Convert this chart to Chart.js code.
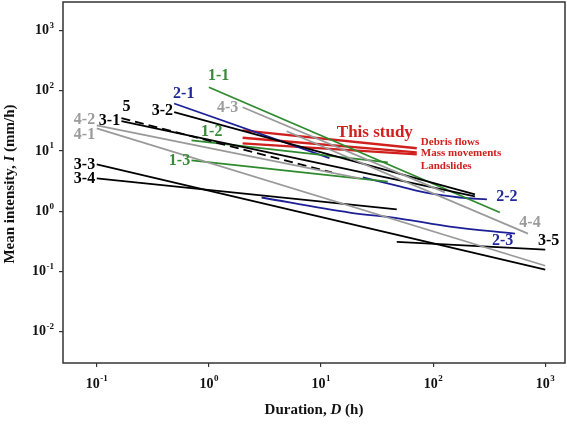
<!DOCTYPE html>
<html><head><meta charset="utf-8">
<script src="https://cdn.jsdelivr.net/npm/chart.js@4"></script>
<style>html,body{margin:0;padding:0;background:#fff}canvas{display:block}</style>
</head><body>
<canvas id="c" width="567" height="424"></canvas>
<script>
// Duration D (h) and mean intensity I (mm/h)
const d11 = [1.0, 394],   i11 = [115, 0.95];
const d12 = [0.70, 39.4], i12 = [15.1, 6.5];
const d13 = [0.70, 39.4], i13 = [7.0, 3.1];
const d21 = [0.49, 11.9], i21 = [61.7, 7.6];
const d22 = [23.6, 50.4, 93.5, 173, 302], i22 = [3.65, 2.58, 1.97, 1.69, 1.57];
const d23 = [2.95, 18.0, 50.4, 141, 537], i23 = [1.69, 0.95, 0.755, 0.556, 0.425];
const d31 = [0.166, 236], i31 = [31.3, 1.76];
const d32 = [0.49, 236],  i32 = [44.2, 1.90];
const d33 = [0.1, 1000],  i33 = [6.0, 0.107];
const d34 = [0.1, 47.4],  i34 = [3.5, 1.07];
const d35 = [47.4, 1000], i35 = [0.31, 0.23];
const d41 = [0.1, 1000],  i41 = [23.9, 0.124];
const d42 = [0.1, 22.2],  i42 = [26.8, 3.5];
const d43 = [2.0, 127],   i43 = [53.5, 2.05];
const d44 = [4.94, 701],  i44 = [21.3, 0.425];
const d5  = [0.166, 12.5], i5 = [35.1, 4.4];
const dDebris = [2.0, 71.5], iDebris = [22.1, 11.1];
const dMass   = [2.0, 71.5], iMass   = [16.6, 9.5];
const dLand   = [2.0, 71.5], iLand   = [13.4, 8.8];

// tick values
const xTicks = [0.1, 1, 10, 100, 1000];
const yTicks = [0.01, 0.1, 1, 10, 100, 1000];

// curve labels (text, anchor D, anchor I, group)
const labText = ['1-1','2-1','3-2','5','3-1','4-2','4-1','4-3','1-2','1-3','3-3','3-4','2-2','4-4','2-3','3-5'];
const labD    = [1.22, 0.597, 0.385, 0.184, 0.13, 0.0778, 0.0778, 1.47, 1.06, 0.547, 0.0778, 0.0778, 455, 731, 417, 1072];
const labI    = [176, 88, 45.7, 53.5, 31.3, 32.5, 18.3, 51.5, 20.5, 6.74, 6.0, 3.51, 1.76, 0.64, 0.325, 0.325];
const labGrp  = ['g','b','k','k','k','a','a','a','g','g','k','k','b','a','b','k'];

const redText = ['Debris flows', 'Mass movements', 'Landslides'];
const redD = [77.7, 77.7, 77.7];
const redI = [14.0, 9.16, 5.56];

const GREEN = '#2f8a2f', BLUE = '#1c1f96', GRAY = '#9a9a9a', BLACK = '#000', RED = '#d0201e';
const LABCOL = {g:'#3a8a3a', b:'#1f2a9a', k:'#000', a:'#9c9c9c'};

function pts(xs, ys){ return xs.map((x,i)=>({x:x, y:ys[i]})); }
function ds(xs, ys, color, extra){
  return Object.assign({data: pts(xs, ys), borderColor: color, borderWidth: 1.8, showLine: true,
    pointRadius: 0, fill: false, tension: 0}, extra||{});
}

const datasets = [
  ds(d41, i41, GRAY), ds(d42, i42, GRAY), ds(d43, i43, GRAY), ds(d44, i44, GRAY),
  ds(d33, i33, BLACK), ds(d34, i34, BLACK), ds(d35, i35, BLACK), ds(d31, i31, BLACK), ds(d32, i32, BLACK),
  ds(d5, i5, BLACK, {borderDash: [9, 5]}),
  ds(d11, i11, GREEN), ds(d12, i12, GREEN), ds(d13, i13, GREEN),
  ds(d21, i21, BLUE), ds(d22, i22, BLUE, {cubicInterpolationMode:'monotone'}), ds(d23, i23, BLUE, {cubicInterpolationMode:'monotone'}),
  ds(dDebris, iDebris, RED, {borderWidth: 2.4}), ds(dMass, iMass, RED, {borderWidth: 2.4}), ds(dLand, iLand, RED, {borderWidth: 2.4})
];

const SERIF = '"Liberation Serif", "Times New Roman", serif';

function drawPow(ctx, exp, x, y, align){
  const base = 'bold 14px ' + SERIF, sup = 'bold 9px ' + SERIF;
  const e = exp < 0 ? '-' + Math.abs(exp) : String(exp);
  ctx.font = base; const wb = ctx.measureText('10').width;
  ctx.font = sup; const we = ctx.measureText(e).width;
  const w = wb + we + 0.5;
  let x0 = align === 'right' ? x - w : x - w/2;
  ctx.fillStyle = '#111'; ctx.textBaseline = 'middle'; ctx.textAlign = 'left';
  ctx.font = base; ctx.fillText('10', x0, y);
  ctx.font = sup; ctx.fillText(e, x0 + wb + 0.5, y - 5);
}

function drawMixed(ctx, parts, x, y, size){
  let total = 0;
  parts.forEach(p => { ctx.font = (p[1] ? 'italic ' : '') + 'bold ' + size + 'px ' + SERIF; total += ctx.measureText(p[0]).width; });
  let cx = x - total/2;
  ctx.textAlign = 'left'; ctx.textBaseline = 'middle'; ctx.fillStyle = '#111';
  parts.forEach(p => { ctx.font = (p[1] ? 'italic ' : '') + 'bold ' + size + 'px ' + SERIF; ctx.fillText(p[0], cx, y); cx += ctx.measureText(p[0]).width; });
}

const decor = {
  id: 'decor',
  afterDraw(chart){
    const ctx = chart.ctx, a = chart.chartArea, sx = chart.scales.x, sy = chart.scales.y;
    ctx.save();
    ctx.strokeStyle = '#333'; ctx.lineWidth = 1.5;
    ctx.strokeRect(a.left, a.top, a.right - a.left, a.bottom - a.top);
    yTicks.forEach(v => drawPow(ctx, Math.round(Math.log10(v)), a.left - 9, sy.getPixelForValue(v), 'right'));
    xTicks.forEach(v => drawPow(ctx, Math.round(Math.log10(v)), sx.getPixelForValue(v), a.bottom + 21, 'center'));
    drawMixed(ctx, [['Duration, ', false], ['D', true], [' (h)', false]], 314, 410, 15);
    ctx.save(); ctx.translate(10, 184); ctx.rotate(-Math.PI/2);
    drawMixed(ctx, [['Mean intensity, ', false], ['I', true], [' (mm/h)', false]], 0, 0, 15);
    ctx.restore();
    ctx.textAlign = 'center'; ctx.textBaseline = 'middle'; ctx.font = 'bold 16px ' + SERIF;
    labText.forEach((t, i) => {
      ctx.fillStyle = LABCOL[labGrp[i]];
      ctx.fillText(t, sx.getPixelForValue(labD[i]), sy.getPixelForValue(labI[i]));
    });
    ctx.fillStyle = RED; ctx.font = 'bold 17px ' + SERIF;
    ctx.fillText('This study', sx.getPixelForValue(30.2), sy.getPixelForValue(20.5));
    ctx.font = 'bold 11px ' + SERIF; ctx.textAlign = 'left';
    redText.forEach((t, i) => ctx.fillText(t, sx.getPixelForValue(redD[i]), sy.getPixelForValue(redI[i])));
    ctx.restore();
  }
};

const axisCommon = {
  type: 'logarithmic',
  grid: { drawOnChartArea: false, drawTicks: true, tickLength: 4, color: '#333', lineWidth: 1.2 },
  border: { display: false },
  ticks: { display: false },
  title: { display: false }
};

new Chart(document.getElementById('c'), {
  type: 'scatter',
  data: { datasets },
  options: {
    responsive: false, animation: false, devicePixelRatio: 1,
    layout: { padding: { left: 59, right: 2, top: 2, bottom: 57 } },
    plugins: { legend: { display: false }, tooltip: { enabled: false } },
    scales: {
      x: Object.assign({}, axisCommon, { position: 'bottom', min: 0.05, max: 1500,
        afterBuildTicks: s => { s.ticks = xTicks.map(v => ({value: v})); } }),
      y: Object.assign({}, axisCommon, { position: 'left', min: 0.003, max: 3000,
        afterBuildTicks: s => { s.ticks = yTicks.map(v => ({value: v})); } })
    }
  },
  plugins: [decor]
});
</script>
</body></html>
